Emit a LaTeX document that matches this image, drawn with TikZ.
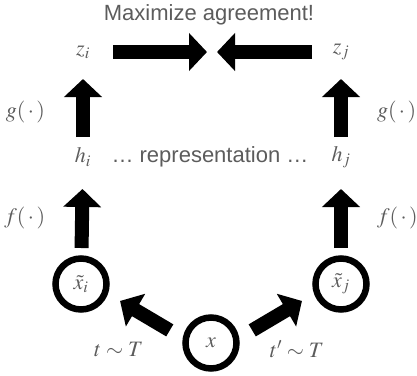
\documentclass[tikz,border=0pt]{standalone}
\usepackage{mathptmx}
\usepackage{fontspec}
\newfontfamily\headfont{Liberation Sans}
\usepackage{tikz}
\usetikzlibrary{arrows.meta,positioning}
\definecolor{txtgray}{HTML}{5C5C5C}

\begin{document}
\begin{tikzpicture}[x=1pt,y=-1pt,
  every node/.style={text=txtgray,font=\fontsize{22}{26}\selectfont},
  blob/.style={circle,draw=black,line width=6.5pt,minimum size=51pt,inner sep=0pt},
  fat/.style={line width=14pt,-{Triangle[width=37pt,length=18pt]}},
  lbl/.style={inner sep=0pt}]
  \useasboundingbox (0,0) rectangle (417,375);
  \node (title) at (209,15) {\headfont Maximize agreement!};
  \node (zi) at (83,52) {$z_i$};
  \node (zj) at (341,52) {$z_j$};
  \coordinate (agree) at (212,52);
  \node (hi) at (83,157) {$h_i$};
  \node (hj) at (341,157) {$h_j$};
  \node (rep) at (210,157) {\headfont\dots{} representation \dots};
  \node[blob] (xi) at (81,284) {$\tilde{x}_i$};
  \node[blob] (xj) at (341,284) {$\tilde{x}_j$};
  \node[blob] (x) at (211,343) {$x$};
  \node[lbl,left=39pt of x,yshift=-6pt] (ti) {$t\sim T$};
  \node[lbl,right=30pt of x,yshift=-6pt] (tj) {$t'\sim T$};
  \path[fat]
  (zi.center) edge[shorten <=30pt,shorten >=5pt] (agree)
  (zj.center) edge[shorten <=29pt,shorten >=5pt] (agree)
  (hi.center) edge[shorten <=20pt,shorten >=27pt]
    node[lbl,pos=.43,left=31pt] (gi) {$g(\,\cdot\,)$} (zi.center)
  (hj.center) edge[shorten <=20pt,shorten >=27pt]
    node[lbl,pos=.43,right=29pt] (gj) {$g(\,\cdot\,)$} (zj.center)
  (xi.center) edge[shorten <=36pt,shorten >=32pt]
    node[lbl,pos=.52,left=30pt] (fi) {$f(\,\cdot\,)$} (hi.center)
  (xj.center) edge[shorten <=36pt,shorten >=32pt]
    node[lbl,pos=.52,right=29pt] (fj) {$f(\,\cdot\,)$} (hj.center)
  (x.170) edge[shorten <=15pt,shorten >=14pt] (xi.-20)
  (x.10) edge[shorten <=15pt,shorten >=14pt] (xj.200);
\end{tikzpicture}
\end{document}
